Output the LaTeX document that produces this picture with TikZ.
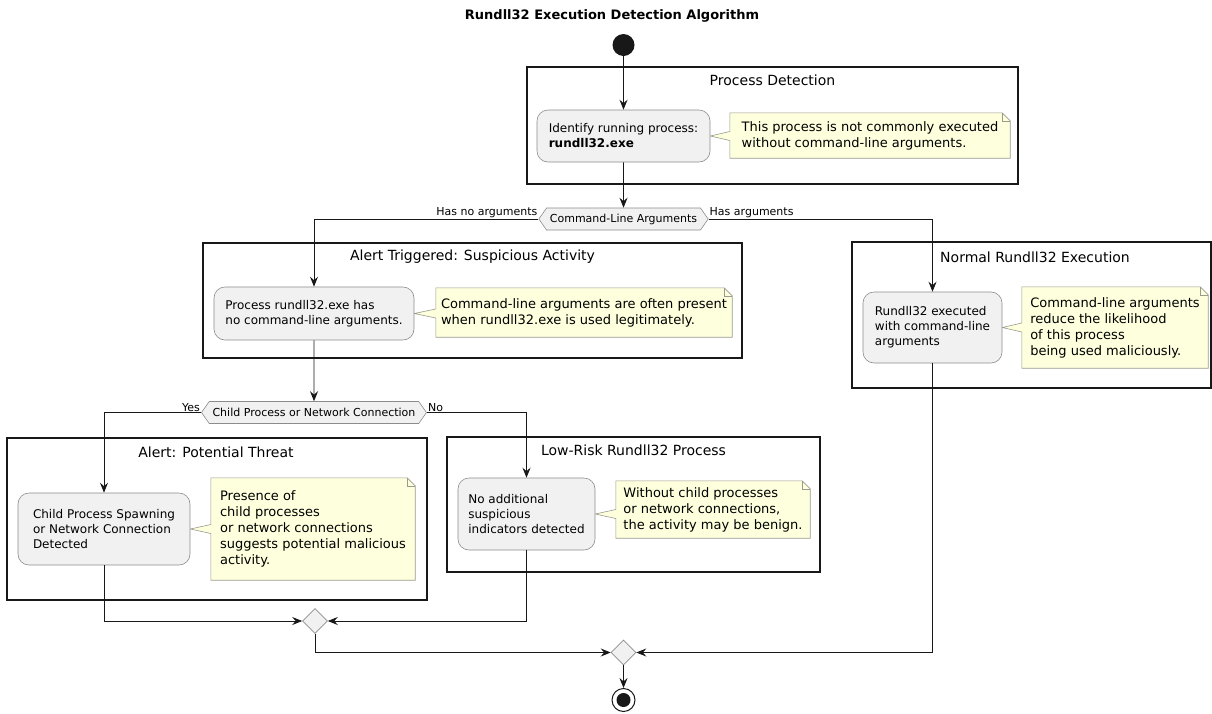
\documentclass[tikz,border=0pt]{standalone}
\usepackage{fontspec}
\setmainfont{DejaVu Sans}
\usetikzlibrary{arrows.meta,shapes.geometric,shapes.symbols,calc,backgrounds}

\definecolor{actfill}{HTML}{F1F1F1}
\definecolor{actline}{HTML}{8C8C8C}
\definecolor{notefill}{HTML}{FEFFDD}
\definecolor{noteline}{HTML}{9A9A8E}
\definecolor{flow}{HTML}{181818}

\tikzset{
  action/.style={rectangle, rounded corners=11pt, draw=actline, fill=actfill,
    line width=0.6pt, align=left, font=\fontsize{12}{15}\selectfont, inner sep=0pt},
  memo/.style={rectangle, align=left, font=\fontsize{13}{16}\selectfont, inner sep=0pt},
  memoline/.style={draw=noteline, fill=notefill, line width=0.6pt},
  group/.style={draw=flow, line width=1.6pt},
  grouptitle/.style={font=\fontsize{14}{16}\selectfont},
  choice/.style={signal, signal to=west and east, signal pointer angle=110,
    draw=actline, fill=actfill, line width=0.6pt, font=\fontsize{11}{13}\selectfont,
    inner ysep=0pt, minimum height=22pt},
  merge/.style={diamond, draw=actline, fill=actfill, line width=0.6pt,
    minimum size=25pt, inner sep=0pt},
  branch/.style={font=\fontsize{11}{13}\selectfont, inner sep=1pt},
  flowline/.style={draw=flow, line width=0.8pt},
  flowarrow/.style={flowline, -{Stealth[length=10pt,width=8pt,inset=3.5pt]}},
}

\begin{document}
\begin{tikzpicture}[x=1pt, y=-1pt]
  \useasboundingbox (0,0) rectangle (1212,713);

  \node[font=\bfseries\fontsize{13}{15}\selectfont] (title) at (612,16)
      {Rundll32 Execution Detection Algorithm};

  % partitions
  \draw[group] (527,67) rectangle (1018,184);
  \node[grouptitle] (detecttitle) at (772.5,80) {Process Detection};
  \draw[group] (203,243) rectangle (742,358);
  \node[grouptitle] (alerttitle) at (472.5,257) {Alert Triggered: Suspicious Activity};
  \draw[group] (852,242) rectangle (1211,388);
  \node[grouptitle] (normaltitle) at (1035,257) {Normal Rundll32 Execution};
  \draw[group] (7,438) rectangle (427,600);
  \node[grouptitle] (threattitle) at (216,452) {Alert: Potential Threat};
  \draw[group] (447,437) rectangle (820,572);
  \node[grouptitle] (lowtitle) at (633.5,450) {Low-Risk Rundll32 Process};

  % start and stop
  \node[circle, fill=flow, minimum size=22pt, inner sep=0pt] (start) at (623.5,45) {};
  \node[circle, draw=flow, line width=1pt, fill=white, minimum size=23pt, inner sep=0pt,
        path picture={\fill[flow] (path picture bounding box.center) circle (7pt);}]
      (stop) at (623.5,700) {};

  % actions
  \node[action, minimum width=173pt, minimum height=52pt] (identify) at (623.5,136)
      {Identify running process:\\\textbf{rundll32.exe}};
  \node[action, minimum width=200pt, minimum height=53pt] (bareproc) at (314,313.5)
      {Process rundll32.exe has\\no command-line arguments.};
  \node[action, minimum width=139pt, minimum height=71pt] (normalexec) at (932.5,327.5)
      {Rundll32 executed\\with command-line\\arguments};
  \node[action, minimum width=172pt, minimum height=72pt] (spawnalert) at (104,529)
      {Child Process Spawning\\or Network Connection\\Detected};
  \node[action, minimum width=137pt, minimum height=72pt] (lowrisk) at (526.5,514)
      {No additional\\suspicious\\indicators detected};

  % notes
  \node[memo, minimum width=280pt, minimum height=45pt] (identifynote) at (870,135.5)
      {This process is not commonly executed\\without command-line arguments.};
  \node[memo, minimum width=296pt, minimum height=49pt] (barenote) at (584,312.5)
      {Command-line arguments are often present\\when rundll32.exe is used legitimately.};
  \node[memo, minimum width=186pt, minimum height=81pt] (normalnote) at (1115,327.5)
      {Command-line arguments\\reduce the likelihood\\of this process\\being used maliciously.};
  \node[memo, minimum width=204pt, minimum height=102pt] (spawnnote) at (313,529)
      {Presence of\\child processes\\or network connections\\suggests potential malicious\\activity.};
  \node[memo, minimum width=194pt, minimum height=57pt] (lownote) at (713,509.5)
      {Without child processes\\or network connections,\\the activity may be benign.};

  \begin{pgfonlayer}{background}
    \foreach \n/\a in {identifynote/identify, barenote/bareproc, normalnote/normalexec,
                       spawnnote/spawnalert, lownote/lowrisk} {
      \filldraw[memoline] (\n.north west) -- ([xshift=-8pt]\n.north east)
          -- ([yshift=-8pt]\n.north east) -- (\n.south east) -- (\n.south west)
          -- ($(\n.west |- \a.east)+(0,-4.5pt)$) -- (\a.east)
          -- ($(\n.west |- \a.east)+(0,4.5pt)$) -- cycle;
      \draw[memoline, fill=none] ([xshift=-8pt]\n.north east)
          -- ([xshift=-8pt,yshift=-8pt]\n.north east) -- ([yshift=-8pt]\n.north east);
    }
  \end{pgfonlayer}

  % decisions
  \node[choice, minimum width=165pt] (cmdargs) at (623.5,219) {Command-Line Arguments};
  \node[branch, anchor=south east] (lblnoargs) at (cmdargs.west) {Has no arguments};
  \node[branch, anchor=south west] (lblargs) at (cmdargs.east) {Has arguments};
  \node[choice, minimum width=222pt] (childnet) at (314,412.5) {Child Process or Network Connection};
  \node[branch, anchor=south east] (lblyes) at (childnet.west) {Yes};
  \node[branch, anchor=south west] (lblno) at (childnet.east) {No};

  \node[merge] (mergeinner) at (315,621) {};
  \node[merge] (mergeouter) at (623.5,652.5) {};

  % flow
  \draw[flowarrow] (start) -- (identify);
  \draw[flowarrow] (identify) -- (cmdargs);
  \draw[flowarrow] (cmdargs.west) -| (bareproc.north);
  \draw[flowarrow] (cmdargs.east) -| (normalexec.north);
  \draw[flowarrow] (bareproc) -- (childnet);
  \draw[flowarrow] (childnet.west) -| (spawnalert.north);
  \draw[flowarrow] (childnet.east) -| (lowrisk.north);
  \draw[flowarrow] (spawnalert.south) |- (mergeinner.west);
  \draw[flowarrow] (lowrisk.south) |- (mergeinner.east);
  \draw[flowarrow] (mergeinner.south) |- (mergeouter.west);
  \draw[flowarrow] (normalexec.south) |- (mergeouter.east);
  \draw[flowarrow] (mergeouter) -- (stop);
\end{tikzpicture}
\end{document}
